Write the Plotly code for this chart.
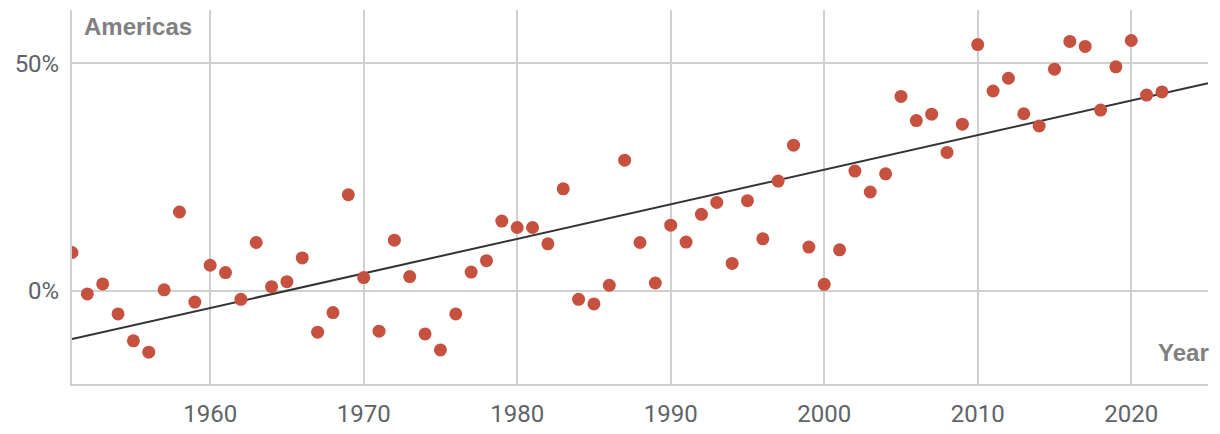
import numpy as np
import plotly.graph_objects as go

years = list(range(1951, 2023))
values = [
    8.4, -0.7, 1.5, -5.1, -11.0, -13.5, 0.2, 17.3, -2.5, 5.6,
    4.0, -1.9, 10.6, 0.9, 2.0, 7.2, -9.1, -4.8, 21.1, 2.9,
    -8.9, 11.1, 3.1, -9.5, -13.0, -5.1, 4.1, 6.6, 15.3, 13.9,
    13.9, 10.3, 22.4, -1.9, -2.9, 1.2, 28.7, 10.6, 1.7, 14.4,
    10.7, 16.8, 19.4, 6.0, 19.8, 11.4, 24.1, 32.0, 9.6, 1.4,
    9.0, 26.3, 21.7, 25.7, 42.7, 37.4, 38.8, 30.4, 36.6, 54.1,
    43.9, 46.7, 38.9, 36.2, 48.7, 54.8, 53.7, 39.7, 49.2, 55.0,
    43.0, 43.7,
]
x_ticks = [1960, 1970, 1980, 1990, 2000, 2010, 2020]
y_ticks = [0, 50]
y_tick_labels = ["0%", "50%"]
x_range = [1951, 2025]
y_range = [-20.5, 61.7]
region = "Americas"
x_title = "Year"

slope, intercept = np.polyfit(years, values, 1)
trend_x = np.array(x_range, dtype=float)
trend_y = slope * trend_x + intercept

fig = go.Figure()
fig.add_trace(go.Scatter(
    x=trend_x, y=trend_y, mode="lines",
    line=dict(color="#333333", width=2), hoverinfo="skip", showlegend=False,
))
fig.add_trace(go.Scatter(
    x=years, y=values, mode="markers",
    marker=dict(color="#c7513f", size=13, line=dict(width=0)),
    showlegend=False,
))

fig.update_layout(
    width=1220, height=434,
    margin=dict(l=72, r=12, t=10, b=50),
    paper_bgcolor="white", plot_bgcolor="white",
    font=dict(family="Roboto", size=24, color="#5f6368"),
    xaxis=dict(
        range=x_range, tickvals=x_ticks, showgrid=True, automargin=False,
        gridcolor="#d0d0d0", gridwidth=2, zeroline=False,
        showline=True, linecolor="#d0d0d0", linewidth=2,
        ticks="outside", ticklen=7, tickcolor="rgba(0,0,0,0)",
    ),
    yaxis=dict(
        range=y_range, tickvals=y_ticks, ticktext=y_tick_labels, showgrid=True,
        automargin=False,
        gridcolor="#d0d0d0", gridwidth=2, zeroline=False,
        showline=True, linecolor="#d0d0d0", linewidth=2,
        ticks="outside", ticklen=6, tickcolor="rgba(0,0,0,0)",
    ),
    annotations=[
        dict(text="<b>" + region + "</b>", xref="paper", yref="paper",
             x=0.009, y=0.955, xanchor="left", yanchor="middle", showarrow=False,
             font=dict(family="Liberation Sans", size=24, color="#808080")),
        dict(text="<b>" + x_title + "</b>", xref="paper", yref="paper",
             x=1.003, y=0.083, xanchor="right", yanchor="middle", showarrow=False,
             font=dict(family="Liberation Sans", size=24, color="#808080")),
    ],
)

fig.write_html("out.html")
